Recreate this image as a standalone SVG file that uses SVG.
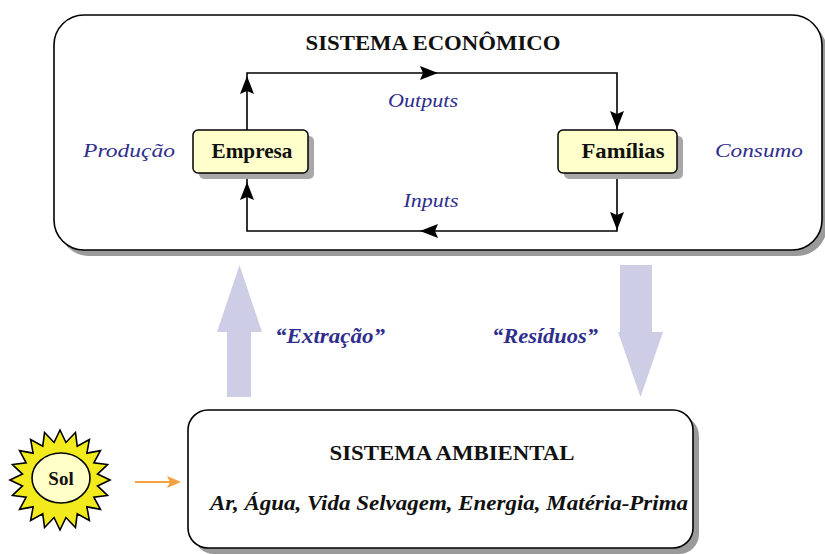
<svg xmlns="http://www.w3.org/2000/svg" width="825" height="554" viewBox="0 0 825 554">
<style>
.sys{fill:#fff;stroke:#000;stroke-width:1.6}
.shadow{fill:#9a9a9a}
.node{fill:#ffffcc;stroke:#000;stroke-width:1.5}
.nshadow{fill:#a8a8a8}
.title{font-family:"Liberation Serif","DejaVu Serif",serif;font-weight:bold;font-size:21px;fill:#111}
.ntext{font-family:"Liberation Serif","DejaVu Serif",serif;font-weight:bold;font-size:21px;fill:#111}
.blue{font-family:"Liberation Serif","DejaVu Serif",serif;font-style:italic;font-size:19px;fill:#2e2e8c}
.blueb{font-family:"Liberation Serif","DejaVu Serif",serif;font-style:italic;font-weight:bold;font-size:20px;fill:#2e2e8c}
.res{font-family:"Liberation Serif","DejaVu Serif",serif;font-style:italic;font-weight:bold;font-size:20px;fill:#111}
.flow{fill:none;stroke:#000;stroke-width:1.6}
.big{fill:#cdcde6}
</style>
<defs>
<path id="ah" d="M0,0 L-18,-7 L-15,0 L-18,7 Z" fill="#000"/>
</defs>

<g id="sistema-economico">
<rect class="shadow" x="59" y="21" width="768" height="235" rx="30"/>
<rect class="sys" x="54" y="15" width="768" height="235" rx="30"/>
<text class="title" x="433" y="50" text-anchor="middle" textLength="255" lengthAdjust="spacingAndGlyphs">SISTEMA ECONÔMICO</text>
<text class="blue" x="129" y="157" text-anchor="middle" textLength="92" lengthAdjust="spacingAndGlyphs">Produção</text>
<text class="blue" x="759" y="157" text-anchor="middle" textLength="88" lengthAdjust="spacingAndGlyphs">Consumo</text>
</g>

<g id="connectors">
<path class="flow" d="M247,130 L247,73 L617,73 L617,130"/>
<path class="flow" d="M617,173 L617,231 L247,231 L247,173"/>
<use href="#ah" transform="translate(438,73)"/>
<use href="#ah" transform="translate(247,76) rotate(-90)"/>
<use href="#ah" transform="translate(617,129) rotate(90)"/>
<use href="#ah" transform="translate(617,230) rotate(90)"/>
<use href="#ah" transform="translate(420,231) rotate(180)"/>
<use href="#ah" transform="translate(247,182) rotate(-90)"/>
<text class="blue" x="423" y="107" text-anchor="middle" textLength="70" lengthAdjust="spacingAndGlyphs">Outputs</text>
<text class="blue" x="431" y="207" text-anchor="middle" textLength="55" lengthAdjust="spacingAndGlyphs">Inputs</text>
<polygon class="big" points="239.5,265 262,332 251,332 251,397 227,397 227,332 217,332"/>
<polygon class="big" points="620,265 652,265 652,332 663,332 640.5,397 618,332 620,332"/>
<text class="blueb" x="330" y="343" text-anchor="middle" textLength="110" lengthAdjust="spacingAndGlyphs">“Extração”</text>
<text class="blueb" x="545" y="343" text-anchor="middle" textLength="106" lengthAdjust="spacingAndGlyphs">“Resíduos”</text>
<line x1="135" y1="482" x2="170" y2="482" stroke="#f4a040" stroke-width="2"/>
<path d="M181,482 L167,476 L170,482 L167,488 Z" fill="#f4a040"/>
</g>

<g id="empresa">
<rect class="nshadow" x="199" y="136" width="115" height="43" rx="5"/>
<rect class="node" x="193" y="130" width="115" height="43" rx="5"/>
<text class="ntext" x="252" y="158" text-anchor="middle" textLength="81" lengthAdjust="spacingAndGlyphs">Empresa</text>
</g>

<g id="familias">
<rect class="nshadow" x="564" y="136" width="119" height="43" rx="5"/>
<rect class="node" x="558" y="130" width="119" height="43" rx="5"/>
<text class="ntext" x="623" y="158" text-anchor="middle" textLength="83" lengthAdjust="spacingAndGlyphs">Famílias</text>
</g>

<g id="sistema-ambiental">
<rect class="shadow" x="194" y="416" width="505" height="138" rx="20"/>
<rect class="sys" x="188" y="410" width="505" height="138" rx="20"/>
<text class="title" x="452" y="460" text-anchor="middle" textLength="245" lengthAdjust="spacingAndGlyphs">SISTEMA AMBIENTAL</text>
<text class="res" x="449" y="510" text-anchor="middle" textLength="478" lengthAdjust="spacingAndGlyphs">Ar, Água, Vida Selvagem, Energia, Matéria-Prima</text>
</g>

<g id="sol">
<polygon fill="#f2ea1c" stroke="#000" stroke-width="1.6" points="60,430 65.94,442.47 75.45,432.45 77.25,446.14 89.39,439.55 86.87,453.13 100.45,450.61 93.86,462.75 107.55,464.55 97.53,474.06 110,480 97.53,485.94 107.55,495.45 93.86,497.25 100.45,509.39 86.87,506.87 89.39,520.45 77.25,513.86 75.45,527.55 65.94,517.53 60,530 54.06,517.53 44.55,527.55 42.75,513.86 30.61,520.45 33.13,506.87 19.55,509.39 26.14,497.25 12.45,495.45 22.47,485.94 10,480 22.47,474.06 12.45,464.55 26.14,462.75 19.55,450.61 33.13,453.13 30.61,439.55 42.75,446.14 44.55,432.45 54.06,442.47"/>
<ellipse cx="61" cy="478" rx="29" ry="25" fill="#ffffc8" stroke="#000" stroke-width="1.6"/>
<text x="61" y="485" text-anchor="middle" font-family="Liberation Serif, DejaVu Serif, serif" font-weight="bold" font-size="19" fill="#111">Sol</text>
</g>
</svg>
